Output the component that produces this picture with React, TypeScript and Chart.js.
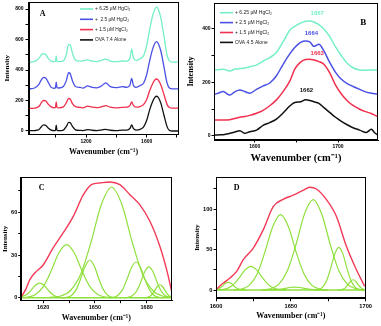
import React, { useEffect, useRef } from "react";
import { Chart, registerables } from "chart.js";

Chart.register(...registerables);

// ---------------- Panel A : Raman spectra (OVA pH 7.4) ----------------
const A_WAVENUMBER = [820, 860, 890, 905, 920, 935, 950, 970, 990, 998, 1003, 1008, 1020, 1050, 1070, 1085, 1095, 1110, 1130, 1160, 1180, 1210, 1240, 1270, 1300, 1330, 1360, 1400, 1440, 1470, 1490, 1501, 1512, 1530, 1560, 1580, 1600, 1620, 1640, 1655, 1666, 1678, 1695, 1715, 1735, 1750, 1770, 1810];
const A_OVA_ALONE = [2, 3, 10, 28, 40, 36, 20, 6, 3, 4, 38, 4, 2, 6, 30, 56, 55, 30, 8, 4, 3, 9, 5, 3, 6, 11, 5, 3, 6, 6, 18, 40, 17, 6, 12, 27, 70, 140, 195, 222, 228, 218, 178, 100, 27, 4, 0, 0];
const A_HG_1_5 = [148, 150, 162, 186, 200, 196, 176, 158, 152, 154, 190, 154, 152, 158, 186, 213, 210, 180, 160, 155, 152, 163, 156, 153, 158, 166, 156, 152, 155, 156, 168, 190, 168, 156, 162, 175, 207, 265, 312, 336, 341, 332, 298, 236, 173, 154, 150, 150];
const A_HG_2_5 = [276, 282, 308, 336, 352, 346, 320, 286, 280, 284, 320, 284, 282, 292, 332, 382, 376, 330, 292, 286, 281, 296, 286, 283, 294, 316, 291, 284, 291, 286, 302, 345, 300, 286, 300, 315, 370, 462, 540, 577, 586, 570, 518, 415, 313, 282, 276, 276];
const A_HG_6_25 = [450, 456, 478, 500, 508, 500, 476, 458, 455, 457, 492, 457, 455, 460, 502, 568, 565, 510, 466, 458, 460, 466, 458, 455, 463, 472, 459, 455, 459, 458, 480, 536, 480, 463, 475, 495, 560, 668, 758, 800, 812, 795, 733, 615, 495, 460, 452, 452];
const A_X_TICKS = [1000, 1200, 1400, 1600, 1800];
const A_X_LABELED = [1200, 1600];
const A_Y_TICKS = [0, 100, 200, 300, 400, 500, 600, 700, 800];
const A_Y_LABELED = [0, 200, 400, 600, 800];
const A_LEGEND = ["+ 6.25 \u03bcM HgCl\u2082", "+  2.5 \u03bcM HgCl\u2082", "+ 1.5 \u03bcM HgCl\u2082", "OVA 7.4 Alone"];

// ---------------- Panel B : amide I region (OVA pH 4.5) ----------------
const B_WAVENUMBER = [1551, 1556, 1562, 1570, 1576, 1582, 1588, 1594, 1602, 1610, 1618, 1626, 1634, 1642, 1648, 1655, 1661, 1666, 1671, 1677, 1683, 1690, 1697, 1704, 1711, 1718, 1726, 1734, 1740, 1744, 1748];
const B_OVA_ALONE = [3, 4, 5, 10, 15, 20, 10, 16, 22, 40, 50, 63, 86, 112, 125, 128, 135, 133, 128, 122, 106, 88, 70, 55, 42, 31, 22, 13, 25, 12, 3];
const B_HG_1_5 = [60, 60, 60, 61, 65, 70, 73, 77, 85, 96, 113, 135, 166, 205, 250, 276, 286, 287, 284, 278, 268, 236, 190, 157, 132, 114, 100, 90, 84, 78, 72];
const B_HG_2_5 = [155, 160, 166, 153, 165, 172, 166, 160, 174, 187, 198, 225, 268, 307, 331, 350, 355, 352, 335, 343, 318, 275, 238, 212, 196, 185, 174, 164, 160, 158, 157];
const B_HG_6_25 = [247, 248, 249, 243, 250, 252, 254, 259, 265, 280, 293, 312, 352, 395, 410, 422, 429, 430, 426, 416, 400, 371, 333, 300, 272, 255, 247, 246, 247, 247, 247];
const B_PEAK_POS = [1667, 1664, 1663, 1662];
const B_PEAK_LABEL_AT = [[1675, 459], [1668, 384], [1675, 309], [1662, 169]];
const B_X_TICKS = [1600, 1650, 1700];
const B_X_LABELED = [1600, 1700];
const B_Y_TICKS = [0, 100, 200, 300, 400];
const B_Y_LABELED = [0, 200, 400];
const B_LEGEND = ["+ 6.25 \u03bcM HgCl\u2082", "+ 2.5 \u03bcM HgCl\u2082", "+ 1.5 \u03bcM HgCl\u2082", "OVA 4.5 Alone"];

// ---------------- Panel C : band fit ----------------
const C_ENVELOPE = [[1607.5, 1], [1610, 6], [1612.3, 12.7], [1615.2, 17.4], [1620, 23], [1625.8, 35], [1631.6, 45.5], [1637.4, 57], [1643.2, 72], [1648, 79.4], [1652.9, 80.6], [1658.7, 81.3], [1664.5, 79.4], [1670.3, 72.4], [1676, 65.4], [1681.9, 53.7], [1687.7, 36], [1691.6, 19.7], [1694.5, 4.5]];
const C_BAND_1618 = [[1607, 0.8], [1610.5, 2.2], [1613, 5.2], [1615.5, 8.7], [1618, 10.3], [1620.5, 8.7], [1623, 5.2], [1625.5, 2.2], [1628, 0.6], [1630.5, 0.1], [1633, 0]];
const C_BAND_1634 = [[1607, 0.1], [1611.1, 0.5], [1615.6, 2.3], [1620.1, 7.8], [1624.6, 18.7], [1629.1, 31.4], [1633.6, 37.3], [1638.1, 31.4], [1642.6, 18.7], [1647.1, 7.8], [1651.6, 2.3], [1656.1, 0.5], [1660.6, 0]];
const C_BAND_1647 = [[1631.1, 0], [1633.8, 0.3], [1636.4, 1.6], [1639.1, 5.5], [1641.7, 13.2], [1644.4, 22.1], [1647, 26.3], [1649.7, 22.1], [1652.3, 13.2], [1655, 5.5], [1657.6, 1.6], [1660.3, 0.3], [1662.9, 0]];
const C_BAND_1660 = [[1623.7, 0.2], [1629.7, 1], [1635.7, 4.9], [1641.7, 16.3], [1647.7, 38.8], [1653.7, 65.3], [1659.7, 77.6], [1665.7, 65.3], [1671.7, 38.8], [1677.7, 16.3], [1683.7, 4.9], [1689.7, 1], [1695.7, 0.2]];
const C_BAND_1674 = [[1657.9, 0], [1660.6, 0.3], [1663.2, 1.6], [1665.9, 5.3], [1668.5, 12.6], [1671.2, 21.1], [1673.8, 25.1], [1676.5, 21.1], [1679.1, 12.6], [1681.8, 5.3], [1684.4, 1.6], [1687.1, 0.3], [1689.7, 0]];
const C_BAND_1681 = [[1666.9, 0], [1669.3, 0.3], [1671.7, 1.4], [1674.1, 4.5], [1676.5, 10.8], [1678.9, 18.2], [1681.3, 21.6], [1683.7, 18.2], [1686.1, 10.8], [1688.5, 4.5], [1690.9, 1.4], [1693.3, 0.3], [1695.7, 0]];
const C_BAND_1688 = [[1678.1, 0], [1679.7, 0.1], [1681.3, 0.6], [1682.9, 1.9], [1684.5, 4.6], [1686.1, 7.7], [1687.7, 9.1], [1689.3, 7.7], [1690.9, 4.6], [1692.5, 1.9], [1694.1, 0.6], [1695.7, 0.1]];
const C_BASELINE = [[1607, 0], [1695, 0]];
const C_X_TICKS = [1620, 1635, 1650, 1665, 1680];
const C_X_LABELED = [1620, 1650, 1680];
const C_Y_TICKS = [0, 15, 30, 45, 60, 75];
const C_Y_LABELED = [0, 30, 60];

// ---------------- Panel D : band fit ----------------
const D_ENVELOPE = [[1600.4, 1.2], [1604.9, 8.6], [1609.3, 14.8], [1613.8, 23], [1618.2, 37.4], [1624.9, 51.8], [1631.6, 74.5], [1638.2, 103], [1644.9, 112], [1651.6, 117], [1658.2, 123], [1662.7, 126.8], [1667.1, 124.7], [1673.8, 111.5], [1680.4, 91], [1687.1, 54], [1693.8, 25], [1699.3, 4.6]];
const D_BAND_1608 = [[1600, 0.5], [1602.2, 2], [1604.2, 4.75], [1606.2, 8], [1608.2, 9.5], [1610.2, 8], [1612.2, 4.75], [1614.2, 2], [1616.2, 0.6], [1618.2, 0.1], [1620.2, 0]];
const D_BAND_1623 = [[1600, 0.1], [1603.3, 0.4], [1607.3, 1.8], [1611.3, 6.1], [1615.3, 14.6], [1619.3, 24.6], [1623.3, 29.2], [1627.3, 24.6], [1631.3, 14.6], [1635.3, 6.1], [1639.3, 1.8], [1643.3, 0.4], [1647.3, 0]];
const D_BAND_1643 = [[1611.6, 0.2], [1616.9, 1.2], [1622.1, 5.8], [1627.4, 19.5], [1632.6, 46.5], [1637.9, 78.2], [1643.1, 93], [1648.4, 78.2], [1653.6, 46.5], [1658.9, 19.5], [1664.1, 5.8], [1669.4, 1.2], [1674.6, 0.2]];
const D_BAND_1653 = [[1631.7, 0], [1638.7, 0.2], [1642.2, 0.8], [1645.7, 1.85], [1649.2, 3.1], [1652.7, 3.7], [1656.2, 3.1], [1659.7, 1.85], [1663.2, 0.8], [1666.7, 0.2], [1673.7, 0]];
const D_BAND_1665 = [[1630.4, 0.2], [1636.1, 1.5], [1641.9, 7], [1647.6, 23.4], [1653.4, 55.8], [1659.1, 93.8], [1664.9, 111.5], [1670.6, 93.8], [1676.4, 55.8], [1682.1, 23.4], [1687.9, 7], [1693.6, 1.5], [1699.4, 0.2]];
const D_BAND_1682 = [[1665.5, 0.1], [1668.3, 0.7], [1671, 3.3], [1673.8, 11.1], [1676.5, 26.4], [1679.3, 44.3], [1682, 52.7], [1684.8, 44.3], [1687.5, 26.4], [1690.3, 11.1], [1693, 3.3], [1695.8, 0.7], [1698.5, 0.1]];
const D_BAND_1692 = [[1681.1, 0], [1682.9, 0.2], [1684.6, 0.8], [1686.4, 2.7], [1688.1, 6.4], [1689.9, 10.7], [1691.6, 12.7], [1693.4, 10.7], [1695.1, 6.4], [1696.9, 2.7], [1698.6, 0.8], [1700, 0.3]];
const D_BASELINE = [[1600, 0], [1700, 0]];
const D_X_TICKS = [1600, 1625, 1650, 1675, 1700];
const D_X_LABELED = [1600, 1650, 1700];
const D_Y_TICKS = [0, 25, 50, 75, 100, 125];
const D_Y_LABELED = [0, 50, 100];

// ---------------- styling ----------------
const SANS = "'Liberation Sans', Arial, sans-serif";
const SERIF = "'Liberation Serif', 'Times New Roman', serif";
const CYAN = "#74f0c4";
const BLUE = "#4a50e4";
const RED = "#f0304e";
const BLACK = "#111111";
const GREEN = "#8fe03c";
const FIT_RED = "#f23a58";
const X_TITLE = "Wavenumber (cm\u207b\u00b9)";
const Y_TITLE = "Intensity";

function series(xs: number[], ys: number[], color: string, width: number) {
  return {
    data: xs.map((x, i) => ({ x, y: ys[i] })),
    borderColor: color,
    borderWidth: width,
    pointRadius: 0,
    showLine: true,
    fill: false,
    cubicInterpolationMode: "monotone",
  };
}
function pairs(p: number[][], color: string, width: number) {
  return series(p.map((q) => q[0]), p.map((q) => q[1]), color, width);
}

type AxisOpt = {
  min: number; max: number; ticks: number[]; labeled: number[];
  tickSize: number; tickLen: number; tickPad: number;
  title: string; titleSize: number; titlePad: number; fit: number; horizontal: boolean;
};
function axis(o: AxisOpt) {
  return {
    type: "linear",
    min: o.min,
    max: o.max,
    afterBuildTicks: (s: any) => { s.ticks = o.ticks.map((v) => ({ value: v })); },
    afterFit: (s: any) => {
      if (o.horizontal) s.height = o.fit; else s.width = o.fit;
      s.paddingTop = 0; s.paddingBottom = 0; s.paddingLeft = 0; s.paddingRight = 0;
    },
    ticks: {
      autoSkip: false, maxRotation: 0, minRotation: 0, padding: o.tickPad, color: "#000",
      font: { family: SANS, weight: "bold", size: o.tickSize },
      callback: (v: number) => (o.labeled.includes(v) ? String(v) : ""),
    },
    grid: { display: true, drawOnChartArea: false, drawTicks: true, tickLength: o.tickLen, color: "#000", lineWidth: 1 },
    border: { display: true, color: "#000", width: 1 },
    title: {
      display: true, text: o.title, color: "#000",
      font: { family: SERIF, weight: "bold", size: o.titleSize },
      padding: { top: o.titlePad, bottom: o.titlePad },
    },
  };
}

type Deco = {
  letter: string; letterX: number; letterY: number; letterSize: number;
  legend?: { texts: string[]; colors: string[]; x: number; y: number; step: number; len: number; size: number };
  peaks?: { at: number[][]; texts: number[]; colors: string[]; size: number };
};
function decoPlugin(d: Deco) {
  return {
    id: "deco",
    afterDraw(chart: any) {
      const { ctx, chartArea: a } = chart;
      ctx.save();
      ctx.strokeStyle = "#000";
      ctx.lineWidth = 1;
      ctx.strokeRect(Math.round(a.left) + 0.5, Math.round(a.top) + 0.5, Math.round(a.right - a.left) - 1, Math.round(a.bottom - a.top) - 1);
      ctx.fillStyle = "#000";
      ctx.font = `bold ${d.letterSize}px ${SERIF}`;
      ctx.textAlign = "center";
      ctx.textBaseline = "middle";
      ctx.fillText(d.letter, a.left + d.letterX, a.top + d.letterY);
      if (d.legend) {
        const L = d.legend;
        ctx.font = `${L.size}px ${SANS}`;
        ctx.textAlign = "left";
        L.texts.forEach((t, i) => {
          const y = a.top + L.y + i * L.step;
          ctx.strokeStyle = L.colors[i];
          ctx.lineWidth = 1.6;
          ctx.beginPath();
          ctx.moveTo(a.left + L.x, y);
          ctx.lineTo(a.left + L.x + L.len, y);
          ctx.stroke();
          ctx.fillStyle = "#222";
          ctx.fillText(t, a.left + L.x + L.len + 2, y);
        });
      }
      if (d.peaks) {
        const P = d.peaks;
        ctx.font = `bold ${P.size}px ${SANS}`;
        ctx.textAlign = "center";
        P.texts.forEach((t, i) => {
          ctx.fillStyle = P.colors[i];
          ctx.fillText(String(t), chart.scales.x.getPixelForValue(P.at[i][0]), chart.scales.y.getPixelForValue(P.at[i][1]));
        });
      }
      ctx.restore();
    },
  };
}

function baseOptions(padding: any, x: any, y: any) {
  return {
    responsive: false,
    animation: false,
    events: [],
    layout: { padding },
    plugins: { legend: { display: false }, tooltip: { enabled: false } },
    scales: { x, y },
  };
}

function configA(): any {
  return {
    type: "scatter",
    data: {
      datasets: [
        series(A_WAVENUMBER, A_OVA_ALONE, BLACK, 1.3),
        series(A_WAVENUMBER, A_HG_1_5, RED, 1.3),
        series(A_WAVENUMBER, A_HG_2_5, BLUE, 1.3),
        series(A_WAVENUMBER, A_HG_6_25, CYAN, 1.3),
      ],
    },
    options: baseOptions(
      { left: 0, top: 2, right: 7.5, bottom: 0 },
      axis({ min: 820, max: 1810, ticks: A_X_TICKS, labeled: A_X_LABELED, tickSize: 5, tickLen: 3, tickPad: 1, title: X_TITLE, titleSize: 8, titlePad: 6.5, fit: 28.5, horizontal: true }),
      axis({ min: -23, max: 846, ticks: A_Y_TICKS, labeled: A_Y_LABELED, tickSize: 5, tickLen: 3, tickPad: 2, title: Y_TITLE, titleSize: 7, titlePad: 2.5, fit: 28.5, horizontal: false })
    ),
    plugins: [decoPlugin({
      letter: "A", letterX: 14.2, letterY: 12, letterSize: 8,
      legend: { texts: A_LEGEND, colors: [CYAN, BLUE, RED, BLACK], x: 51.5, y: 7, step: 10.3, len: 13, size: 4.8 },
    })],
  };
}

function configB(): any {
  return {
    type: "scatter",
    data: {
      datasets: [
        series(B_WAVENUMBER, B_OVA_ALONE, BLACK, 1.5),
        series(B_WAVENUMBER, B_HG_1_5, RED, 1.5),
        series(B_WAVENUMBER, B_HG_2_5, BLUE, 1.5),
        series(B_WAVENUMBER, B_HG_6_25, CYAN, 1.5),
      ],
    },
    options: baseOptions(
      { left: 0, top: 3, right: 3, bottom: 0 },
      axis({ min: 1551, max: 1748, ticks: B_X_TICKS, labeled: B_X_LABELED, tickSize: 5, tickLen: 2.5, tickPad: 1, title: X_TITLE, titleSize: 10.5, titlePad: 5.7, fit: 30, horizontal: true }),
      axis({ min: -15, max: 497, ticks: B_Y_TICKS, labeled: B_Y_LABELED, tickSize: 5, tickLen: 2.5, tickPad: 1, title: Y_TITLE, titleSize: 8, titlePad: 0.2, fit: 28, horizontal: false })
    ),
    plugins: [decoPlugin({
      letter: "B", letterX: 149.3, letterY: 19.7, letterSize: 9,
      legend: { texts: B_LEGEND, colors: [CYAN, BLUE, RED, BLACK], x: 6, y: 9.7, step: 9.9, len: 13, size: 5 },
      peaks: { at: B_PEAK_LABEL_AT, texts: B_PEAK_POS, colors: [CYAN, BLUE, RED, BLACK], size: 6 },
    })],
  };
}

function configC(): any {
  return {
    type: "scatter",
    data: {
      datasets: [
        pairs(C_ENVELOPE, FIT_RED, 1.4),
        pairs(C_BAND_1618, GREEN, 1.2),
        pairs(C_BAND_1634, GREEN, 1.2),
        pairs(C_BAND_1647, GREEN, 1.2),
        pairs(C_BAND_1660, GREEN, 1.2),
        pairs(C_BAND_1674, GREEN, 1.2),
        pairs(C_BAND_1681, GREEN, 1.2),
        pairs(C_BAND_1688, GREEN, 1.2),
        pairs(C_BASELINE, GREEN, 1.4),
      ],
    },
    options: baseOptions(
      { left: 0, top: 14, right: 14, bottom: 0 },
      axis({ min: 1607, max: 1694.7, ticks: C_X_TICKS, labeled: C_X_LABELED, tickSize: 5.5, tickLen: 2.5, tickPad: 1.3, title: X_TITLE, titleSize: 8, titlePad: 3.2, fit: 25.3, horizontal: true }),
      axis({ min: -2.1, max: 84.8, ticks: C_Y_TICKS, labeled: C_Y_LABELED, tickSize: 5.5, tickLen: 2.5, tickPad: 1, title: Y_TITLE, titleSize: 7, titlePad: 0.8, fit: 20.7, horizontal: false })
    ),
    plugins: [decoPlugin({ letter: "C", letterX: 21, letterY: 11, letterSize: 8 })],
  };
}

function configD(): any {
  return {
    type: "scatter",
    data: {
      datasets: [
        pairs(D_ENVELOPE, FIT_RED, 1.4),
        pairs(D_BAND_1608, GREEN, 1.2),
        pairs(D_BAND_1623, GREEN, 1.2),
        pairs(D_BAND_1643, GREEN, 1.2),
        pairs(D_BAND_1653, GREEN, 1.2),
        pairs(D_BAND_1665, GREEN, 1.2),
        pairs(D_BAND_1682, GREEN, 1.2),
        pairs(D_BAND_1692, GREEN, 1.2),
        pairs(D_BASELINE, GREEN, 1.4),
      ],
    },
    options: baseOptions(
      { left: 0, top: 14, right: 15.3, bottom: 0 },
      axis({ min: 1600, max: 1700, ticks: D_X_TICKS, labeled: D_X_LABELED, tickSize: 5.7, tickLen: 3, tickPad: 1.7, title: X_TITLE, titleSize: 8, titlePad: 5.2, fit: 27.7, horizontal: true }),
      axis({ min: -10.2, max: 139.5, ticks: D_Y_TICKS, labeled: D_Y_LABELED, tickSize: 5.7, tickLen: 2.5, tickPad: 1, title: Y_TITLE, titleSize: 7, titlePad: 2.5, fit: 26, horizontal: false })
    ),
    plugins: [decoPlugin({ letter: "D", letterX: 20.7, letterY: 11, letterSize: 8 })],
  };
}

function Panel(props: { left: number; top: number; width: number; height: number; build: () => any }) {
  const ref = useRef<HTMLCanvasElement>(null);
  useEffect(() => {
    const chart = new Chart(ref.current as HTMLCanvasElement, props.build());
    return () => chart.destroy();
  }, []);
  return (
    <canvas
      ref={ref}
      width={props.width}
      height={props.height}
      style={{ position: "absolute", left: props.left, top: props.top, width: props.width, height: props.height }}
    />
  );
}

export default function App() {
  return (
    <div style={{ position: "absolute", left: 0, top: 0, width: 381, height: 326, background: "#fff", overflow: "hidden" }}>
      <Panel left={0} top={163} width={186} height={163} build={configC} />
      <Panel left={190} top={163} width={191} height={163} build={configD} />
      <Panel left={0} top={0} width={186} height={163} build={configA} />
      <Panel left={186} top={0} width={195} height={170} build={configB} />
    </div>
  );
}
